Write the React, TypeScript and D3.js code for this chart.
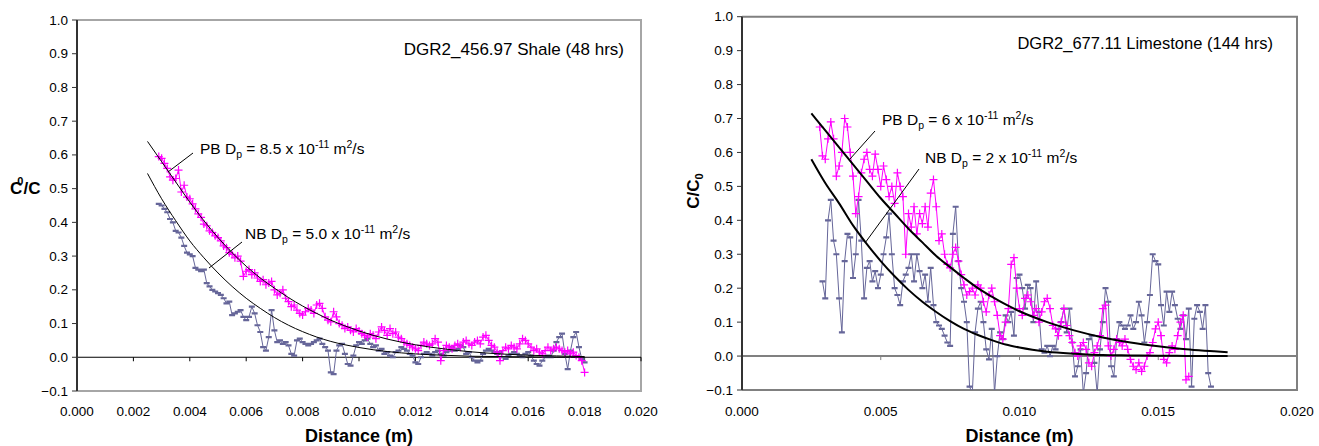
import React from 'react';
import * as d3 from 'd3';

// sample spacing of the profiles (m)
const step = 0.0001;

// DGR2_456.97 Shale (48 hrs)
const shaleStart = 0.0029;
const shalePB = [
  0.595, 0.59, 0.575, 0.56, 0.535, 0.525, 0.53, 0.555, 0.49, 0.51,
  0.475, 0.47, 0.455, 0.44, 0.425, 0.415, 0.395, 0.39, 0.375, 0.37,
  0.36, 0.355, 0.345, 0.33, 0.325, 0.31, 0.305, 0.295, 0.3, 0.285,
  0.24, 0.255, 0.26, 0.245, 0.25, 0.235, 0.225, 0.23, 0.215, 0.22,
  0.225, 0.2, 0.185, 0.19, 0.2, 0.175, 0.165, 0.15, 0.155, 0.14,
  0.13, 0.125, 0.135, 0.145, 0.14, 0.13, 0.155, 0.16, 0.145, 0.12,
  0.11, 0.105, 0.135, 0.12, 0.1, 0.095, 0.085, 0.09, 0.08, 0.075,
  0.085, 0.078, 0.07, 0.065, 0.06, 0.07, 0.065, 0.055, 0.075, 0.09,
  0.08, 0.065, 0.085, 0.07, 0.075, 0.06, 0.055, 0.045, 0.04, 0.035,
  0.03, 0.025, 0.02, 0.035, 0.045, 0.04, 0.035, 0.04, 0.055, 0.045,
  -0.01, 0.02, 0.035, 0.03, 0.025, 0.035, 0.04, 0.03, 0.045, 0.05,
  0.04, 0.035, 0.045, 0.05, 0.04, 0.06, 0.065, 0.05, 0.035, 0.03,
  0.015, -0.01, 0.02, 0.03, 0.025, 0.035, 0.03, 0.025, 0.04, 0.055,
  0.05, 0.04, 0.03, 0.02, 0.025, 0.015, 0.01, 0.02, 0.03, 0.02,
  0.025, 0.03, 0.025, 0.02, 0.015, 0.02, 0.01, 0.015, 0.005, 0.0,
  -0.01, -0.045,
];
const shaleNB = [
  0.455, 0.45, 0.44, 0.43, 0.41, 0.4, 0.375, 0.37, 0.355, 0.33,
  0.31, 0.305, 0.3, 0.265, 0.26, 0.255, 0.26, 0.22, 0.21, 0.2,
  0.195, 0.19, 0.185, 0.175, 0.16, 0.165, 0.125, 0.13, 0.135, 0.14,
  0.12, 0.11, 0.12, 0.15, 0.13, 0.095, 0.075, 0.03, 0.02, 0.06,
  0.14, 0.08, 0.045, 0.05, 0.04, 0.045, 0.035, 0.01, 0.005, 0.05,
  0.055, 0.045, 0.04, 0.035, 0.04, 0.045, 0.05, 0.055, 0.04, 0.03,
  0.02, -0.045, -0.05, 0.02, 0.035, 0.04, 0.01, -0.02, -0.025, 0.005,
  0.035, 0.045, 0.04, 0.05, 0.055, 0.04, 0.03, 0.035, 0.02, 0.025,
  0.01, 0.015, 0.005, 0.0, 0.015, 0.02, 0.03, 0.025, 0.02, 0.01,
  0.005, -0.015, -0.02, 0.0, 0.01, 0.015, 0.01, 0.005, 0.015, 0.02,
  0.01, 0.005, 0.015, 0.02, 0.03, 0.02, 0.025, 0.035, 0.03, 0.01,
  0.015, 0.0, -0.01, -0.015, -0.01, 0.01, 0.02, 0.025, 0.02, 0.015,
  0.01, 0.015, 0.0, -0.005, 0.005, 0.01, 0.015, 0.01, 0.005, 0.0,
  0.01, 0.015, 0.005, -0.01, -0.02, -0.025, -0.01, 0.0, 0.005, 0.0,
  0.02, 0.045, 0.06, 0.07, 0.01, -0.035, 0.02, 0.06, 0.075, 0.03,
  -0.005, -0.015,
];
const shaleModelDist = [0.0025, 0.003, 0.0035, 0.004, 0.0045, 0.005, 0.0055, 0.006, 0.0065, 0.007, 0.0075, 0.008,
  0.0085, 0.009, 0.0095, 0.01, 0.011, 0.012, 0.013, 0.014, 0.015, 0.016, 0.017, 0.018];
const shaleModelPB = [0.64, 0.58, 0.52, 0.46, 0.405, 0.355, 0.31, 0.27, 0.235, 0.205, 0.177, 0.152,
  0.13, 0.11, 0.093, 0.078, 0.054, 0.037, 0.025, 0.016, 0.01, 0.006, 0.004, 0.002];
const shaleModelNB = [0.545, 0.47, 0.405, 0.345, 0.295, 0.25, 0.21, 0.175, 0.145, 0.118, 0.095, 0.076,
  0.06, 0.047, 0.037, 0.029, 0.017, 0.01, 0.006, 0.003, 0.002, 0.001, 0.0005, 0.0];

// DGR2_677.11 Limestone (144 hrs)
const limePBStart = 0.0028;
const limePB = [
  0.675, 0.59, 0.58, 0.64, 0.69, 0.64, 0.53, 0.56, 0.6, 0.7,
  0.675, 0.6, 0.53, 0.42, 0.47, 0.54, 0.58, 0.6, 0.55, 0.53,
  0.595, 0.55, 0.5, 0.56, 0.52, 0.47, 0.5, 0.45, 0.54, 0.5,
  0.47, 0.3, 0.42, 0.38, 0.44, 0.36, 0.42, 0.39, 0.44, 0.38,
  0.48, 0.52, 0.44, 0.34, 0.36, 0.3, 0.27, 0.26, 0.3, 0.32,
  0.28, 0.24, 0.21, 0.18, 0.19, 0.2, 0.18, 0.21, 0.2, 0.16,
  0.13, 0.18, 0.2, 0.16, 0.12, 0.06, 0.05, 0.1, 0.14, 0.27,
  0.29, 0.2, 0.14, 0.12, 0.17, 0.18, 0.16, 0.12, 0.14, 0.1,
  0.13, 0.16, 0.17, 0.14, 0.09, 0.08, 0.06, 0.1, 0.14, 0.09,
  0.06, 0.04, 0.01, 0.0, 0.03, 0.04, 0.02, -0.02, -0.03, 0.01,
  0.03, 0.06, 0.14, 0.15, 0.03, 0.0, 0.02, 0.05, 0.04, 0.03,
  0.05, 0.02, -0.01, -0.03, -0.04, -0.02, -0.045, -0.03, 0.0, 0.01,
  0.04, 0.08, 0.1, 0.06, -0.01, -0.02, 0.01, 0.03, 0.02, 0.06,
  0.1, 0.12, -0.07, -0.06,
];
const limeNBStart = 0.0029;
const limeNB = [
  0.22, 0.17, 0.4, 0.46, 0.34, 0.3, 0.17, 0.07, 0.28, 0.36,
  0.35, 0.23, 0.3, 0.46, 0.34, 0.17, 0.26, 0.28, 0.22, 0.25,
  0.2, 0.24, 0.3, 0.35, 0.42, 0.3, 0.2, 0.18, 0.15, 0.22,
  0.24, 0.26, 0.3, 0.22, 0.3, 0.25, 0.2, 0.24, 0.16, 0.26,
  0.15, 0.1, 0.09, 0.08, 0.06, 0.04, 0.03, 0.36, 0.44, 0.28,
  0.2, 0.16, 0.1, -0.09, -0.11, 0.07, 0.14, 0.16, 0.1, 0.02,
  -0.01, 0.08, -0.11, 0.0, 0.07, 0.05, 0.12, 0.1, 0.13, 0.06,
  0.23, 0.24, 0.2, 0.14, 0.21, 0.2, 0.1, 0.22, 0.13, 0.02,
  0.01, 0.03, 0.0, 0.03, 0.02, 0.08, 0.1, 0.14, 0.07, 0.14,
  0.04, -0.06, -0.03, 0.02, -0.11, -0.05, 0.05, 0.06, -0.02, -0.11,
  0.02, 0.1, 0.2, 0.16, -0.03, -0.06, 0.05, 0.1, 0.09, 0.08,
  0.09, 0.12, 0.08, 0.1, 0.16, 0.12, 0.04, 0.1, 0.18, 0.3,
  0.28, 0.27, 0.15, 0.09, 0.19, 0.13, 0.19, 0.15, 0.11, 0.08,
  0.12, 0.05, 0.14, -0.09, 0.11, 0.15, 0.13, 0.08, 0.15, -0.05,
  -0.09,
];
const limeModelDist = [0.0025, 0.003, 0.0035, 0.004, 0.0045, 0.005, 0.0055, 0.006, 0.0065, 0.007, 0.0075, 0.008,
  0.0085, 0.009, 0.0095, 0.01, 0.011, 0.012, 0.013, 0.014, 0.015, 0.016, 0.017, 0.0175];
const limeModelPB = [0.715, 0.665, 0.615, 0.565, 0.515, 0.465, 0.42, 0.375, 0.335, 0.295, 0.262, 0.23,
  0.2, 0.175, 0.152, 0.132, 0.1, 0.075, 0.055, 0.04, 0.029, 0.02, 0.014, 0.011];
const limeModelNB = [0.58, 0.51, 0.45, 0.385, 0.33, 0.28, 0.235, 0.195, 0.16, 0.13, 0.103, 0.08,
  0.062, 0.047, 0.034, 0.025, 0.013, 0.007, 0.003, 0.002, 0.001, 0.0005, 0.0, 0.0];

const yTicks = [-0.1, 0, 0.1, 0.2, 0.3, 0.4, 0.5, 0.6, 0.7, 0.8, 0.9, 1.0];
const shaleXTicks = [0, 0.002, 0.004, 0.006, 0.008, 0.01, 0.012, 0.014, 0.016, 0.018, 0.02];
const limeXTicks = [0, 0.005, 0.01, 0.015, 0.02];

const PINK = '#FF00FF';
const SLATE = '#666699';
const FONT = '"Liberation Sans", Arial, sans-serif';

function Dp({ x, y, label, value }) {
  return (
    <text x={x} y={y} fontSize={15.5} fill="#000">
      {label} D<tspan fontSize={10.5} dy={4}>p</tspan>
      <tspan dy={-4}> = {value} x 10</tspan>
      <tspan fontSize={10.5} dy={-6}>-11</tspan>
      <tspan dy={6}> m</tspan>
      <tspan fontSize={10.5} dy={-6}>2</tspan>
      <tspan dy={6}>/s</tspan>
    </text>
  );
}

function Panel(props) {
  const { id, x0, x1, y0, y1, xTicks, xFmt, pb, pbStart, nb, nbStart,
    modelDist, modelPB, modelNB, curveW, frame, zero, children } = props;

  const x = d3.scaleLinear().domain([0, 0.02]).range([x0, x1]);
  const y = d3.scaleLinear().domain([-0.1, 1.0]).range([y1, y0]);

  const pbPts = pb.map((v, i) => [pbStart + i * step, v]);
  const nbPts = nb.map((v, i) => [nbStart + i * step, v]);

  const line = d3.line().x(d => x(d[0])).y(d => y(d[1]));
  const smooth = d3.line().x(d => x(d[0])).y(d => y(d[1])).curve(d3.curveMonotoneX);

  const plus = pbPts.map(d => {
    const px = x(d[0]), py = y(d[1]);
    return `M${px - 4},${py}h8M${px},${py - 4}v8`;
  }).join('');
  const dash = nbPts.map(d => `M${x(d[0]) - 3},${y(d[1])}h6`).join('');

  const fy = d3.format('.1f');
  return (
    <g>
      <defs>
        <clipPath id={id}>
          <rect x={x0} y={y0} width={x1 - x0} height={y1 - y0} />
        </clipPath>
      </defs>
      {/* frame */}
      <path d={`M${x0},${y0}H${x1}V${y1}H${x0}`} fill="none" stroke={frame} strokeWidth={2} />
      <line x1={x0} x2={x1} y1={y(0)} y2={y(0)} stroke={zero.color} strokeWidth={zero.width} />
      {xTicks.map(t => (
        <line key={t} x1={x(t)} x2={x(t)} y1={y(0)} y2={y(0) + 4} stroke={zero.color} strokeWidth={1} />
      ))}
      <g clipPath={`url(#${id})`}>
        <path d={line(nbPts)} fill="none" stroke={SLATE} strokeWidth={1} />
        <path d={dash} fill="none" stroke={SLATE} strokeWidth={2.2} />
        <path d={line(pbPts)} fill="none" stroke={PINK} strokeWidth={1} />
        <path d={plus} fill="none" stroke={PINK} strokeWidth={1.2} />
        <path d={smooth(modelDist.map((d, i) => [d, modelPB[i]]))} fill="none" stroke="#000" strokeWidth={curveW} />
        <path d={smooth(modelDist.map((d, i) => [d, modelNB[i]]))} fill="none" stroke="#000" strokeWidth={curveW} />
      </g>
      {/* y axis */}
      <line x1={x0} x2={x0} y1={y0} y2={y1} stroke="#333" strokeWidth={2} />
      {yTicks.map(t => (
        <g key={t}>
          <line x1={x0 - 5} x2={x0} y1={y(t)} y2={y(t)} stroke="#333" strokeWidth={1} />
          <text x={x0 - 9} y={y(t) + 4.5} textAnchor="end" fontSize={13.5}>{fy(t)}</text>
        </g>
      ))}
      {xTicks.map(t => (
        <text key={t} x={x(t)} y={416} textAnchor="middle" fontSize={13.5}>{xFmt(t)}</text>
      ))}
      <text x={(x0 + x1) / 2} y={442} textAnchor="middle" fontSize={18} fontWeight="bold">Distance (m)</text>
      {children}
    </g>
  );
}

export default function App() {
  const f3 = d3.format('.3f');
  return (
    <svg width={1319} height={446} style={{ position: 'absolute', left: 0, top: 0, background: '#fff' }}
      fontFamily={FONT}>
      <Panel id="clipShale" x0={77} x1={641} y0={20} y1={391} xTicks={shaleXTicks} xFmt={f3}
        pb={shalePB} pbStart={shaleStart} nb={shaleNB} nbStart={shaleStart}
        modelDist={shaleModelDist} modelPB={shaleModelPB} modelNB={shaleModelNB}
        curveW={1} frame="#a6a6a6" zero={{ color: '#000', width: 1.2 }}>
        <text x={624} y={55} textAnchor="end" fontSize={17}>DGR2_456.97 Shale (48 hrs)</text>
        <text x={10} y={194} fontSize={17} fontWeight="bold">C<tspan fontSize={11} dx={-5} dy={-9}>0</tspan><tspan dy={9}>/C</tspan></text>
        <line x1={193} y1={153} x2={168} y2={172} stroke="#000" strokeWidth={1} />
        <Dp x={200} y={154} label="PB" value="8.5" />
        <line x1={242} y1={242} x2={209} y2={268} stroke="#000" strokeWidth={1} />
        <Dp x={245} y={239} label="NB" value="5.0" />
      </Panel>
      <Panel id="clipLime" x0={742} x1={1297} y0={16.7} y1={390} xTicks={limeXTicks} xFmt={f3}
        pb={limePB} pbStart={limePBStart} nb={limeNB} nbStart={limeNBStart}
        modelDist={limeModelDist} modelPB={limeModelPB} modelNB={limeModelNB}
        curveW={2} frame="#808080" zero={{ color: '#808080', width: 2 }}>
        <text x={1273} y={49} textAnchor="end" fontSize={16.5}>DGR2_677.11 Limestone (144 hrs)</text>
        <text transform="translate(699,191) rotate(-90)" textAnchor="middle" fontSize={17} fontWeight="bold">
          C/C<tspan fontSize={11} dy={4}>0</tspan>
        </text>
        <line x1={875} y1={131} x2={850} y2={159} stroke="#000" strokeWidth={1} />
        <Dp x={882} y={125} label="PB" value="6" />
        <line x1={919} y1={169} x2={865} y2={243} stroke="#000" strokeWidth={1} />
        <Dp x={925} y={163} label="NB" value="2" />
      </Panel>
    </svg>
  );
}
